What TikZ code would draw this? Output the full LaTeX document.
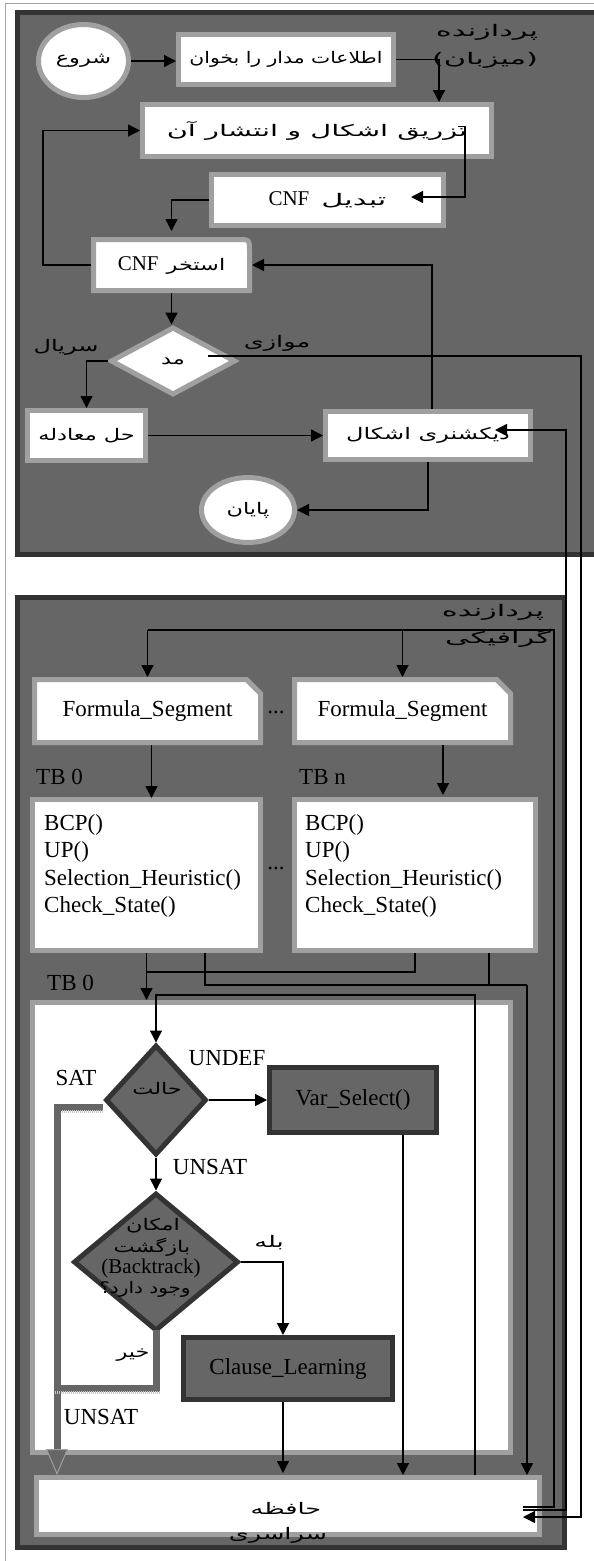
\documentclass[tikz,border=0pt]{standalone}
\usepackage{graphicx}
\usepackage{fontspec}
\setmainfont{Liberation Serif}
\newfontfamily\pfa[Script=Arabic]{DejaVu Sans}
\newfontfamily\pfl{DejaVu Sans}
\TeXXeTstate=1
\usetikzlibrary{arrows.meta,shapes.geometric,calc}
\definecolor{midg}{HTML}{666666}
\definecolor{darkg}{HTML}{333333}
\definecolor{lightg}{HTML}{A0A0A0}
\newcommand{\pfs}{\pfa\fontsize{16}{18}\selectfont}
\newcommand{\ptext}[2][1.4]{\scalebox{#1}[1]{\pfs\beginR #2\endR}}
\newcommand{\latx}[1]{{\rmfamily\fontsize{21}{24}\selectfont #1}}
\begin{document}
\begin{tikzpicture}[x=1pt,y=-1pt,
  font=\fontsize{23}{27}\selectfont,
  every node/.style={inner sep=0pt},
  wbox/.style={rectangle, draw=lightg, line width=5pt, fill=white},
  dbox/.style={rectangle, draw=darkg, line width=5pt, fill=midg},
  term/.style={ellipse, draw=lightg, line width=5pt, fill=white},
  conn/.style={draw=black, line width=1.4pt, -{Triangle[length=12pt,width=12pt]}},
  wire/.style={draw=black, line width=1.4pt},
  gline/.style={draw=midg, line width=7pt, line cap=rect},
  garrow/.style={draw=midg, line width=7pt, -{Triangle[length=26pt,width=22pt,color=lightg,fill=midg,line width=1pt]}},
  texture/.style={draw=gray!45, line width=2.5pt, dash pattern=on 1pt off 1pt}]
\useasboundingbox (0,0) rectangle (594,1561);
\fill[white] (0,0) rectangle (594,1561);
\draw[gray!70, line width=1pt] (5.5,1561) -- (5.5,3.5) -- (594,3.5);
% frames
\draw[fill=midg, draw=darkg, line width=5pt] (17.5,12.5) rectangle (640,554.5);
\draw[fill=midg, draw=darkg, line width=5pt] (17.5,597.5) rectangle (564.5,1547.5);

% ---------- host part
\node[term, minimum width=90pt, minimum height=73pt] (start) at (83.5,61) {\ptext{شروع}};
\node[wbox, minimum width=215pt, minimum height=50pt] (read) at (286,59.5) {\ptext[1.27]{اطلاعات مدار را بخوان}};
\node[wbox, minimum width=349pt, minimum height=52pt] (inject) at (317,130.5) {\ptext[1.8]{تزریق اشکال و انتشار آن}};
\node[wbox, minimum width=232pt, minimum height=51pt] (cnf) at (327.5,200) {\latx{CNF}\hspace{12pt}\ptext[1.9]{تبدیل}};
\filldraw[draw=lightg, fill=white, line width=5pt] (93.5,290.5) -- (93.5,239.5) -- (237.5,239.5) .. controls (249.5,239.5) .. (249.5,251.5) -- (249.5,290.5) -- cycle;
\node[minimum width=161pt, minimum height=56pt, outer sep=0pt] (pool) at (171.5,265) {\latx{CNF}\hspace{8pt}\ptext{استخر}};
\node[diamond, draw=lightg, line width=5pt, fill=white, minimum width=125pt, minimum height=68pt] (mode) at (173,361) {\ptext{مد}};
\node[wbox, minimum width=118pt, minimum height=50pt] (solve) at (86.5,435.5) {\ptext{حل معادله}};
\node[wbox, minimum width=205pt, minimum height=48pt] (dict) at (428,435.5) {\ptext[1.5]{دیکشنری اشکال}};
\node[term, minimum width=93pt, minimum height=65pt] (stop) at (248,510) {\ptext{پایان}};

\node (hl1) at (487,32) {\ptext[1.9]{پردازنده}};
\node (hl2) at (485,60) {\scalebox{1.9}[1]{{\pfl\fontsize{16}{18}\selectfont(}{\pfs\beginR میزبان\endR}{\pfl\fontsize{16}{18}\selectfont)}}};
\node (serial) at (66,347) {\ptext[1.5]{سریال}};
\node (parl) at (277,343) {\ptext[1.6]{موازی}};

% ---------- GPU part
\node (gl1) at (493,612) {\ptext[1.9]{پردازنده}};
\node (gl2) at (498,638) {\ptext[1.9]{گرافیکی}};
\filldraw[draw=lightg, fill=white, line width=5pt] (34.5,742.5) -- (34.5,679.5) -- (246.5,679.5) -- (260.5,693.5) -- (260.5,742.5) -- cycle;
\node[minimum width=231pt, minimum height=68pt, outer sep=0pt] (fsl) at (147.5,711) {Formula\_Segment};
\filldraw[draw=lightg, fill=white, line width=5pt] (294.5,742.5) -- (294.5,679.5) -- (496.5,679.5) -- (510.5,693.5) -- (510.5,742.5) -- cycle;
\node[minimum width=221pt, minimum height=68pt, outer sep=0pt] (fsr) at (402.5,711) {Formula\_Segment};
\node (dots1) at (276,712) {...};
\node[anchor=west] (tb0a) at (36,777) {TB 0};
\node[anchor=west] (tbn) at (299,777) {TB n};
\node[wbox, minimum width=228pt, minimum height=151pt] (tbl) at (146.5,874.5) {};
\node[wbox, minimum width=241pt, minimum height=151pt] (tbr) at (415,875) {};
\node[anchor=base west] (bcpl) at (44,830) {BCP()};
\node[anchor=base west] (upl) at (44,857.5) {UP()};
\node[anchor=base west] (shl) at (44,885) {Selection\_Heuristic()};
\node[anchor=base west] (csl) at (44,912.5) {Check\_State()};
\node[anchor=base west] (bcpr) at (305,830) {BCP()};
\node[anchor=base west] (upr) at (305,857.5) {UP()};
\node[anchor=base west] (shr) at (305,885) {Selection\_Heuristic()};
\node[anchor=base west] (csr) at (305,912.5) {Check\_State()};
\node (dots2) at (276,868) {...};
\node[anchor=west] (tb0b) at (47,983) {TB 0};

\node[wbox, minimum width=478pt, minimum height=450pt] (inner) at (271.5,1227.5) {};
\node[wbox, minimum width=503pt, minimum height=57pt] (mem) at (288,1506) {};
\node (memt1) at (286,1508) {\ptext[1.6]{حافظه}};
\node (memt2) at (278,1535) {\ptext[1.6]{سراسری}};

% gray SAT / UNSAT paths
\coordinate (xs) at (57,0);
\coordinate (y1388) at (0,1388);
\node[diamond, draw=darkg, fill=midg, line width=5pt, minimum width=101pt, minimum height=110pt] (d1) at (156,1100) {};
\node[diamond, draw=darkg, fill=midg, line width=5pt, minimum width=165pt, minimum height=138pt] (d2) at (156,1262) {};
\draw[garrow] ([yshift=-7pt]d1.west) -| (xs |- mem.north);
\draw[gline] (d2.south) |- (y1388 -| xs);
\draw[texture] (62,1111.5) -- (103,1111.5);
\draw[texture] (55,1392.5) -- (160,1392.5);

\node (d1t) at (157,1088) {\ptext{حالت}};
\node[dbox, minimum width=167pt, minimum height=65pt] (var) at (353,1100) {Var\_Select()};
\node (d2a) at (153,1226) {\ptext{امکان}};
\node (d2b) at (152,1247) {\ptext{بازگشت}};
\node (d2c) at (151,1268) {\fontsize{21}{24}\selectfont(Backtrack)};
\node (d2d) at (145,1289) {\ptext[1.25]{وجود دارد؟}};
\node[dbox, minimum width=209pt, minimum height=62pt] (clause) at (288,1368.5) {Clause\_Learning};

\node (undef) at (227,1058) {UNDEF};
\node (sat) at (76,1078) {SAT};
\node (unsat1) at (210,1167) {UNSAT};
\node (unsat2) at (101,1417) {UNSAT};
\node (yes) at (269,1243) {\ptext[1.6]{بله}};
\node (no) at (133,1355) {\ptext{خیر}};

% ---------- connectors (host)
\coordinate (xr1) at (439,0);
\coordinate (xl1) at (43,0);
\draw[conn] (start.east) -- (start.east -| read.west);
\draw[conn] (read.east) -| (xr1 |- inject.north);
\draw[conn] ([xshift=-36pt,yshift=4pt]inject.east) -- ++(7,0) |- ([xshift=-35pt,yshift=3pt]cnf.east);
\draw[conn, shorten >=6pt] (cnf.west) -| (pool.north);
\draw[conn] (pool.west) -- (pool.west -| xl1) |- (inject.west);
\draw[conn] ([xshift=4pt]dict.north) |- (pool.east);
\draw[conn] (pool.south) -- (pool.south |- mode.north);
\draw[conn] (mode.west) -| (solve.north);
\draw[conn] (solve.east) -- (dict.west);
\draw[conn] (dict.south) |- (stop.east);

% ---------- connectors between host and GPU
\coordinate (xr0) at (554,0);
\coordinate (xr2) at (566,0);
\coordinate (xr3) at (581,0);
\coordinate (p0) at ([xshift=-30pt,yshift=5pt]mode.east);
\coordinate (mIn) at ([xshift=-19pt,yshift=-11pt]mem.east);
\coordinate (mOut2) at ([xshift=-19pt,yshift=-4pt]mem.east);
\coordinate (mOut1) at ([xshift=-19pt,yshift=-1pt]mem.east);
\coordinate (dIn) at ([xshift=-38pt,yshift=5.5pt]dict.east);
\coordinate (ytop) at (0,630);
\draw[conn] (p0) -- (p0 -| xr3) |- (mIn);
\draw[conn] (mOut2) -- (mOut2 -| xr2) |- (dIn);
\draw[wire] (mOut1) -- (mOut1 -| xr0) |- (ytop -| fsl.north);
\draw[conn] (ytop -| fsl.north) -- (fsl.north);
\draw[conn] (ytop -| fsr.north) -- (fsr.north);

% ---------- connectors (GPU)
\coordinate (y972) at (0,972);
\coordinate (y985) at (0,985);
\coordinate (y995) at (0,995);
\coordinate (xb) at (527,0);
\coordinate (xl) at (475,0);
\coordinate (xv) at (403,0);
\draw[conn] ([xshift=4pt]fsl.south) -- ++(0,53);
\draw[conn] ([xshift=40.5pt]fsr.south) -- ++(0,50);
\draw[conn] (tbl.south) -- (tbl.south |- inner.north);
\draw[wire] (tbr.south) |- (y972 -| tbl.south);
\draw[wire] ([xshift=58.5pt]tbl.south) |- (y985 -| xb);
\draw[wire] ([xshift=74pt]tbr.south) -- ++(0,32);
\draw[conn] (y985 -| xb) -- (xb |- mem.north);
\draw[conn] (xl |- mem.north) -- (xl |- y995) -| (d1.north);
\draw[conn] (d1.east) -- (var.west);
\draw[conn] (xv |- var.south) -- (xv |- mem.north);
\draw[conn] (d1.south) -- (d1.south |- d2.north);
\draw[conn] (d2.east) -| ([xshift=-5pt]clause.north);
\draw[conn] ([xshift=-5pt]clause.south) -- ++(0,71);
\end{tikzpicture}
\end{document}
